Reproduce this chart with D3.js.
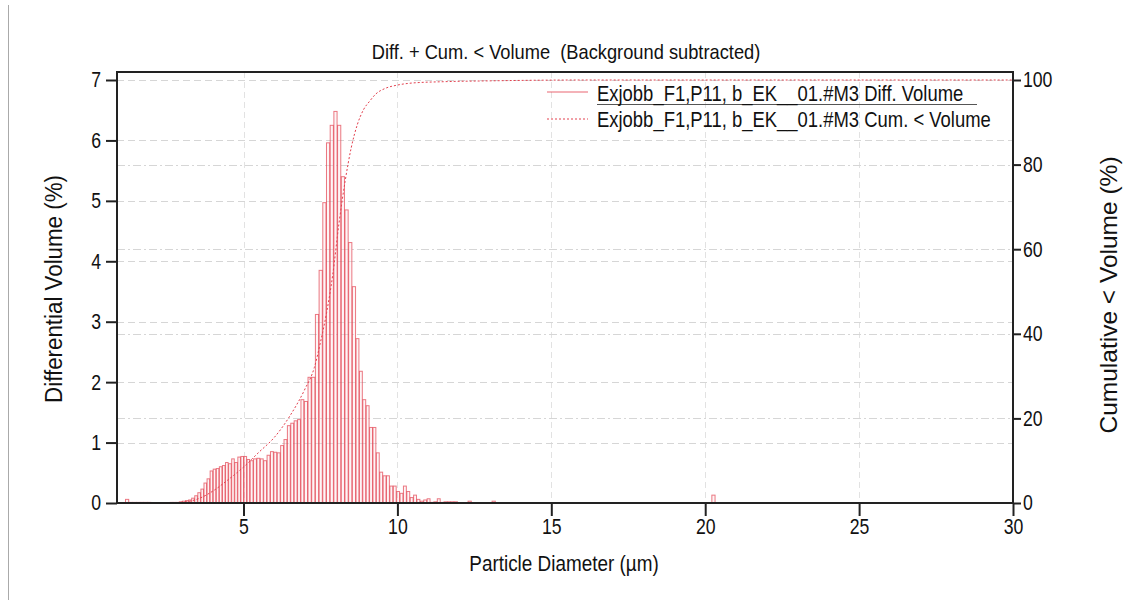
<!DOCTYPE html>
<html>
<head>
<meta charset="utf-8">
<script src="https://cdn.jsdelivr.net/npm/d3@7"></script>
<style>
  body { margin: 0; background: #fff; }
  text { font-family: "Liberation Sans", Arial, sans-serif; fill: #111; }
</style>
</head>
<body>
<div id="chart"></div>
<script>
"use strict";

// -- data --

// lower edge of each size bin (µm)
var binLo = [1.15, 1.27, 1.39, 1.51, 1.63, 1.75, 1.87,
  2.60, 2.70, 2.80, 2.90, 3.00, 3.10, 3.20, 3.30, 3.40, 3.50, 3.60, 3.70, 3.80, 3.90,
  4.00, 4.10, 4.20, 4.30, 4.40, 4.50, 4.60, 4.70, 4.80, 4.90,
  5.00, 5.10, 5.20, 5.31, 5.42, 5.53, 5.64, 5.75, 5.86, 5.97,
  6.08, 6.19, 6.30, 6.41, 6.52, 6.63, 6.74, 6.85, 6.96,
  7.08, 7.20, 7.32, 7.44, 7.56, 7.68, 7.80, 7.92,
  8.04, 8.16, 8.28, 8.40, 8.52, 8.64, 8.75, 8.86, 8.97,
  9.08, 9.19, 9.30, 9.41, 9.52, 9.63, 9.74, 9.85, 9.96,
  10.07, 10.18, 10.29, 10.40, 10.51, 10.62, 10.73, 10.84, 10.95,
  11.06, 11.17, 11.28, 11.39, 11.50, 11.61, 11.72, 11.83,
  12.28, 13.06, 20.20];

// differential volume (%) per bin
var diffVolume = [0.06, 0.01, 0.01, 0.01, 0.01, 0.01, 0.01,
  0.01, 0.01, 0.01, 0.02, 0.03, 0.04, 0.05, 0.08, 0.12, 0.17, 0.23, 0.33, 0.40, 0.53,
  0.56, 0.57, 0.60, 0.62, 0.67, 0.65, 0.73, 0.67, 0.76, 0.77,
  0.77, 0.72, 0.70, 0.73, 0.74, 0.73, 0.70, 0.79, 0.85, 0.84,
  0.83, 0.95, 1.05, 1.28, 1.32, 1.36, 1.38, 1.71, 1.68,
  2.08, 2.08, 3.12, 3.85, 4.97, 5.96, 6.25, 6.48,
  6.25, 5.40, 4.85, 4.31, 3.58, 2.72, 2.18, 1.71, 1.61,
  1.25, 1.25, 0.83, 0.51, 0.45, 0.45, 0.28, 0.28, 0.19,
  0.16, 0.28, 0.19, 0.09, 0.13, 0.06, 0.03, 0.05, 0.07,
  0.01, 0.02, 0.07, 0.01, 0.02, 0.02, 0.02, 0.02,
  0.03, 0.03, 0.13];

// cumulative < volume (%) curve
var cumDiameter = [0.89, 2.8, 3.3, 3.6, 4.0, 4.5, 5.0, 5.5, 6.0, 6.5, 7.0, 7.3, 7.5, 7.7,
  7.9, 8.1, 8.3, 8.5, 8.7, 8.9, 9.1, 9.3, 9.6, 10.0, 10.5, 11.5, 13.0, 16.0, 30.0];
var cumVolume = [0, 0.1, 0.5, 1.2, 2.8, 5.5, 8.5, 12.0, 15.5, 20.5, 27.0, 32.0, 38.0, 45.0,
  54.0, 66.0, 76.0, 84.0, 89.5, 93.0, 95.0, 96.7, 98.0, 98.8, 99.3, 99.6, 99.8, 100, 100];

var xTicks = [5, 10, 15, 20, 25, 30];
var yTicks = [0, 1, 2, 3, 4, 5, 6, 7];
var y2Ticks = [0, 20, 40, 60, 80, 100];

var legendLabels = ["Exjobb_F1,P11, b_EK__01.#M3 Diff. Volume",
                    "Exjobb_F1,P11, b_EK__01.#M3 Cum. < Volume"];

// -- layout --
var width = 1135, height = 608;
var plot = { left: 117, right: 1013, top: 72, bottom: 503 };
var red = "#e3404e";

// squeeze a text horizontally (the original uses a narrow face)
function narrow(sel, k) {
  sel.each(function () {
    var len = this.getComputedTextLength();
    d3.select(this)
      .attr("textLength", len * k)
      .attr("lengthAdjust", "spacingAndGlyphs");
  });
}

var svg = d3.select("#chart").append("svg")
  .attr("width", width)
  .attr("height", height);

var x = d3.scaleLinear().domain([0.89, 30]).range([plot.left, plot.right]);
var y = d3.scaleLinear().domain([0, 7]).range([plot.bottom, 80]);
var y2 = d3.scaleLinear().domain([0, 100]).range([plot.bottom, 80]);

// thin page border on the left
svg.append("line")
  .attr("x1", 8.5).attr("x2", 8.5)
  .attr("y1", 5).attr("y2", 600)
  .attr("stroke", "#aaa").attr("stroke-width", 1);

// grid lines
var grid = svg.append("g").attr("class", "grid");
grid.selectAll("line.gx").data(xTicks.slice(0, -1)).enter().append("line")
  .attr("class", "gx")
  .attr("x1", function (d) { return Math.round(x(d)) + 0.5; })
  .attr("x2", function (d) { return Math.round(x(d)) + 0.5; })
  .attr("y1", plot.top).attr("y2", plot.bottom)
  .attr("stroke", "#e2e2e2").attr("stroke-dasharray", "6,4");
grid.selectAll("line.gy").data(yTicks.slice(1)).enter().append("line")
  .attr("class", "gy")
  .attr("x1", plot.left).attr("x2", plot.right)
  .attr("y1", function (d) { return Math.round(y(d)) + 0.5; })
  .attr("y2", function (d) { return Math.round(y(d)) + 0.5; })
  .attr("stroke", "#d6d6d6").attr("stroke-dasharray", "7,4");
grid.selectAll("line.gy2").data(y2Ticks.slice(1, -1)).enter().append("line")
  .attr("class", "gy2")
  .attr("x1", plot.left).attr("x2", plot.right)
  .attr("y1", function (d) { return Math.round(y2(d)) + 0.5; })
  .attr("y2", function (d) { return Math.round(y2(d)) + 0.5; })
  .attr("stroke", "#d6d6d6").attr("stroke-dasharray", "8,3,2,3");

// histogram bars (outlined)
var bins = binLo.map(function (lo, i) {
  var next = binLo[i + 1];
  var w = (next !== undefined && next - lo < 0.2) ? next - lo : 0.12;
  return { lo: lo, hi: lo + w, v: diffVolume[i] };
});

svg.append("g").attr("class", "bars")
  .selectAll("rect").data(bins).enter().append("rect")
  .attr("x", function (d) { return x(d.lo) + 0.5; })
  .attr("y", function (d) { return y(d.v); })
  .attr("width", function (d) { return Math.max(x(d.hi) - x(d.lo) - 0.5, 1); })
  .attr("height", function (d) { return y(0) - y(d.v); })
  .attr("fill", "#fbe3e5")
  .attr("fill-opacity", 0.35)
  .attr("stroke", red)
  .attr("stroke-opacity", 0.7)
  .attr("stroke-width", 1);

// cumulative curve (dotted)
var cumLine = d3.line()
  .x(function (d) { return x(d[0]); })
  .y(function (d) { return y2(d[1]); })
  .curve(d3.curveMonotoneX);

svg.append("path")
  .datum(cumDiameter.map(function (d, i) { return [d, cumVolume[i]]; }))
  .attr("d", cumLine)
  .attr("fill", "none")
  .attr("stroke", red)
  .attr("stroke-width", 1)
  .attr("stroke-dasharray", "2,2");

// frame
svg.append("rect")
  .attr("x", plot.left).attr("y", plot.top)
  .attr("width", plot.right - plot.left)
  .attr("height", plot.bottom - plot.top)
  .attr("fill", "none")
  .attr("stroke", "#222")
  .attr("stroke-width", 2);

// axes
var xAxis = svg.append("g")
  .attr("transform", "translate(0," + plot.bottom + ")")
  .call(d3.axisBottom(x).tickValues(xTicks).tickFormat(d3.format("d"))
    .tickSize(13).tickPadding(3).tickSizeOuter(0));

var yAxis = svg.append("g")
  .attr("transform", "translate(" + plot.left + ",0)")
  .call(d3.axisLeft(y).tickValues(yTicks).tickFormat(d3.format("d"))
    .tickSize(11).tickPadding(5).tickSizeOuter(0));

var y2Axis = svg.append("g")
  .attr("transform", "translate(" + plot.right + ",0)")
  .call(d3.axisRight(y2).tickValues(y2Ticks).tickFormat(d3.format("d"))
    .tickSize(8).tickPadding(2).tickSizeOuter(0));

[xAxis, yAxis, y2Axis].forEach(function (a) {
  a.attr("font-family", null).attr("font-size", null);
  a.select(".domain").remove();
  a.selectAll(".tick line").attr("stroke", "#222").attr("stroke-width", 2);
  a.selectAll(".tick text")
    .attr("fill", "#111")
    .style("font-size", "21.5px")
    .call(narrow, 0.82);
});

// titles
svg.append("text")
  .attr("x", 566).attr("y", 59)
  .attr("text-anchor", "middle")
  .style("font-size", "21px")
  .style("white-space", "pre")
  .text("Diff. + Cum. < Volume  (Background subtracted)")
  .call(narrow, 0.87);

svg.append("text")
  .attr("x", 564).attr("y", 571)
  .attr("text-anchor", "middle")
  .style("font-size", "22.5px")
  .text("Particle Diameter (µm)")
  .call(narrow, 0.84);

svg.append("text")
  .attr("transform", "translate(62,289) rotate(-90)")
  .attr("text-anchor", "middle")
  .style("font-size", "23.5px")
  .text("Differential Volume (%)")
  .call(narrow, 0.95);

svg.append("text")
  .attr("transform", "translate(1117,295) rotate(-90)")
  .attr("text-anchor", "middle")
  .style("font-size", "24.5px")
  .text("Cumulative < Volume (%)")
  .call(narrow, 1.0);

// legend (texts squeezed with a transform so their boxes stay narrow too)
var legend = svg.append("g").attr("class", "legend");
legend.append("line")
  .attr("x1", 547).attr("x2", 588).attr("y1", 92).attr("y2", 92)
  .attr("stroke", red).attr("stroke-opacity", 0.8);
legend.append("line")
  .attr("x1", 547).attr("x2", 588).attr("y1", 119).attr("y2", 119)
  .attr("stroke", red).attr("stroke-dasharray", "2,2");
legend.append("line")
  .attr("x1", 597).attr("x2", 977).attr("y1", 104.5).attr("y2", 104.5)
  .attr("stroke", "#555").attr("stroke-width", 1);
legend.selectAll("text.lg").data(legendLabels).enter().append("text")
  .attr("class", "lg")
  .attr("transform", function (d, i) {
    return "translate(597," + (101 + i * 26) + ") scale(0.82,1)";
  })
  .style("font-size", "22.5px")
  .text(function (d) { return d; });
</script>
</body>
</html>
